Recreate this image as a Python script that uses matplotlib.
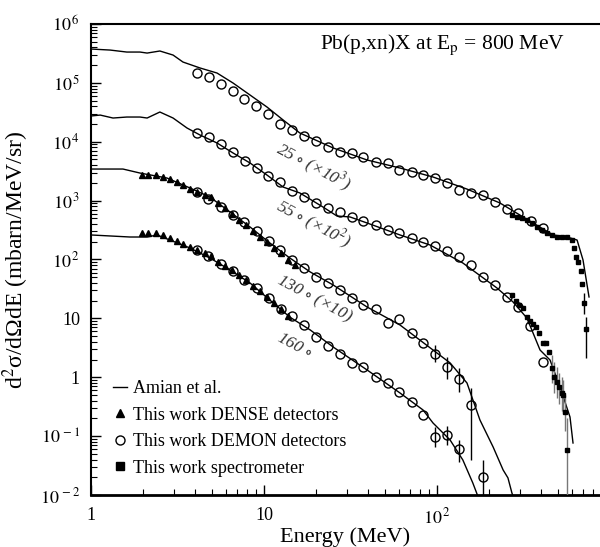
"""
Pb(p,xn)X double differential cross sections at Ep = 800 MeV
Amian et al. calculation vs. DENSE / DEMON / spectrometer data
"""

import matplotlib
matplotlib.use('Agg')
import matplotlib.pyplot as plt
from matplotlib.lines import Line2D
from matplotlib.ticker import LogLocator, NullFormatter

plt.rcParams.update({
    'font.family': 'serif',
    'font.serif': ['Liberation Serif', 'DejaVu Serif'],
    'mathtext.fontset': 'stix',
    'font.size': 13,
})

# ---- 25 deg (x10^3) ----
e_amian_25 = [1.00, 1.29, 1.61, 1.92, 2.11, 2.50, 2.98, 3.40, 4.27, 5.35, 6.62, 8.30, 10.4,
              12.9, 16.1, 25.1, 39.4, 61.1, 94.8, 149, 231, 359, 469, 564, 645, 698, 756]
y_amian_25 = [3.76e5, 3.61e5, 3.34e5, 3.34e5, 3.21e5, 3.48e5, 2.97e5, 2.26e5, 1.79e5, 1.47e5,
              9.95e4, 6.22e4, 3.89e4, 2.34e4, 1.41e4, 7.84e3, 4.90e3, 3.58e3, 2.52e3, 1.57e3,
              912, 417, 261, 241, 214, 98.1, 23.1]
e_demon_25 = [4.10, 4.81, 5.64, 6.62, 7.66, 8.99, 10.5, 12.4, 14.5, 17.0, 20.0, 23.4, 27.5, 32.3,
              37.3, 44.4, 52.1, 60.3, 71.7, 83.0, 97.3, 114, 134, 157, 185, 216, 254, 294, 349, 410]
y_demon_25 = [1.47e5, 1.26e5, 9.57e4, 7.28e4, 5.32e4, 4.05e4, 2.96e4, 2.00e4, 1.58e4, 1.25e4,
              1.03e4, 8.15e3, 6.70e3, 6.45e3, 5.51e3, 4.53e3, 4.36e3, 3.31e3, 3.06e3, 2.72e3,
              2.42e3, 1.99e3, 1.51e3, 1.35e3, 1.25e3, 948, 721, 617, 451, 343]
e_spec_25 = [271, 290, 310, 331, 354, 378, 405, 432, 462, 494, 528, 564, 603, 619, 636, 653,
             679, 689, 708, 727]
y_spec_25 = [571, 528, 508, 469, 417, 357, 317, 282, 261, 241, 241, 241, 214, 157, 110, 90.7,
             63.8, 38.4, 18.2, 6.60]
y_spec_25_lo = [571, 528, 508, 469, 417, 357, 317, 282, 261, 241, 241, 241, 214, 157, 110, 90.7,
                63.8, 38.4, 12.0, 2.12]
y_spec_25_hi = [571, 528, 508, 469, 417, 357, 317, 282, 261, 241, 241, 241, 214, 157, 110, 90.7,
                63.8, 38.4, 27.0, 10.5]

# ---- 55 deg (x10^2) ----
e_amian_55 = [1.00, 1.13, 1.34, 1.61, 1.92, 2.11, 2.50, 2.98, 3.59, 4.27, 5.35, 6.62, 8.30, 10.4,
              12.9, 16.1, 21.9, 26.4, 31.4, 39.4, 61.1, 91.2, 141, 222, 275, 331, 359, 394, 450,
              514, 587, 611]
y_amian_55 = [2.74e4, 2.84e4, 2.53e4, 2.63e4, 2.63e4, 2.53e4, 3.20e4, 2.53e4, 1.71e4, 1.30e4,
              9.53e3, 6.45e3, 4.36e3, 2.72e3, 1.70e3, 1.35e3, 780, 548, 528, 417, 261, 176, 87.2,
              32.8, 19.0, 10.1, 5.64, 2.90, 1.96, 0.682, 0.211, 0.0764]
e_demon_55 = [4.10, 4.81, 5.64, 6.62, 7.76, 9.12, 10.5, 12.4, 14.5, 17.0, 20.0, 23.4, 27.5, 32.3,
              37.3, 44.4, 52.1, 60.3, 71.7, 83.0, 97.3, 114, 134, 157, 185, 216, 254, 294, 345, 410]
y_demon_55 = [1.41e4, 1.21e4, 9.17e3, 6.70e3, 4.71e3, 3.58e3, 2.62e3, 2.07e3, 1.46e3, 1.15e3,
              912, 750, 641, 528, 451, 386, 317, 282, 232, 198, 169, 139, 110, 80.7, 50.5, 36.9,
              23.1, 15.6, 7.41, 1.82]
e_spec_55 = [271, 286, 298, 314, 331, 345, 359, 373, 389, 410, 427, 444, 462, 475, 494, 507, 528,
             535, 550, 564]
y_spec_55 = [25.0, 19.7, 16.9, 15.0, 10.5, 9.02, 8.02, 7.13, 5.64, 3.82, 3.82, 2.69, 1.44, 1.01,
             0.830, 0.682, 0.540, 0.499, 0.257, 0.0581]
y_spec_55_lo = [25.0, 19.7, 16.9, 15.0, 10.5, 9.02, 8.02, 7.13, 5.64, 3.82, 3.82, 2.69, 0.80,
                0.55, 0.45, 0.35, 0.27, 0.25, 0.12, 0.008]
y_spec_55_hi = [25.0, 19.7, 16.9, 15.0, 10.5, 9.02, 8.02, 7.13, 5.64, 3.82, 3.82, 2.69, 2.4,
                1.8, 1.5, 1.2, 1.0, 0.9, 0.50, 0.20]

# ---- 130 deg (x10) ----
e_amian_130 = [1.00, 1.53, 1.92, 2.75, 3.73, 4.87, 6.36, 8.30, 10.8, 14.1, 18.5, 25.1, 39.4, 61.1,
               94.8, 119, 149, 177, 211, 241, 257, 271, 285]
y_amian_130 = [3.44e3, 3.44e3, 2.94e3, 2.42e3, 1.64e3, 1.15e3, 641, 357, 191, 106, 61.4, 36.9,
               15.6, 7.71, 2.90, 1.75, 0.798, 0.188, 0.0653, 0.0266, 0.0195, 0.0108, 0.007]
e_dense_130 = [1.97, 2.13, 2.38, 2.61, 2.86, 3.14, 3.40, 3.73, 4.10, 4.56, 4.94, 5.42, 5.95, 6.53,
               7.17, 7.87, 8.64, 9.48, 10.4, 11.4, 12.5, 13.8, 15.1]
y_dense_130 = [2.72e3, 2.72e3, 2.72e3, 2.52e3, 2.33e3, 2.07e3, 1.84e3, 1.57e3, 1.40e3, 1.25e3,
               1.15e3, 912, 750, 593, 469, 386, 305, 241, 198, 157, 129, 98.1, 80.7]
e_demon_130 = [4.10, 4.75, 5.64, 6.62, 7.66, 9.12, 10.7, 12.4, 14.5, 17.0, 20.0, 23.4, 27.5, 32.3,
               37.3, 44.4, 52.1, 60.3, 71.7, 83.0, 97.3, 114, 134, 157]
y_demon_130 = [1.40e3, 1.07e3, 780, 571, 434, 305, 206, 145, 98.1, 71.8, 50.5, 39.9, 30.4, 22.2,
               16.9, 14.4, 8.34, 9.75, 5.64, 3.82, 2.48, 1.49, 0.933, 0.338]
y_demon_130_lo = [1.40e3, 1.07e3, 780, 571, 434, 305, 206, 145, 98.1, 71.8, 50.5, 39.9, 30.4,
                  22.2, 16.9, 14.4, 8.34, 9.75, 5.64, 3.82, 1.8, 0.95, 0.561, 0.0393]
y_demon_130_hi = [1.40e3, 1.07e3, 780, 571, 434, 305, 206, 145, 98.1, 71.8, 50.5, 39.9, 30.4,
                  22.2, 16.9, 14.4, 8.34, 9.75, 5.64, 3.82, 3.5, 2.2, 1.44, 0.656]

# ---- 160 deg ----
e_amian_160 = [1.00, 1.68, 2.11, 2.41, 2.86, 3.73, 4.87, 6.36, 8.30, 10.8, 14.1, 18.5, 25.1, 39.4,
               61.1, 83.0, 94.8, 119, 141, 161, 173, 180]
y_amian_160 = [261, 241, 241, 261, 214, 157, 106, 66.4, 39.9, 20.5, 10.5, 6.35, 3.26, 1.33,
               0.540, 0.278, 0.167, 0.0859, 0.0393, 0.0160, 0.0092, 0.006]
e_dense_160 = [1.97, 2.13, 2.38, 2.61, 2.86, 3.14, 3.40, 3.73, 4.10, 4.56, 4.94, 5.42, 5.95, 6.53,
               7.17, 7.87, 8.64, 9.48, 10.4, 11.4, 12.5, 13.8]
y_dense_160 = [282, 282, 282, 261, 232, 206, 183, 163, 145, 129, 115, 90.7, 77.6, 66.4, 54.6,
               44.9, 35.5, 29.2, 23.1, 18.2, 14.4, 11.0]
e_demon_160 = [4.10, 4.75, 5.64, 6.62, 7.66, 9.12, 10.7, 12.5, 14.5, 17.0, 20.0, 23.4, 27.5, 32.3,
               37.3, 44.4, 52.1, 60.3, 71.7, 83.0, 97.3, 114, 134, 185]
y_demon_160 = [145, 115, 83.9, 63.8, 44.9, 32.8, 22.2, 14.4, 11.0, 7.7, 4.83, 3.39, 2.48, 1.75,
               1.49, 1.01, 0.798, 0.561, 0.380, 0.229, 0.0966, 0.104, 0.0604, 0.0202]
y_demon_160_lo = [145, 115, 83.9, 63.8, 44.9, 32.8, 22.2, 14.4, 11.0, 7.7, 4.83, 3.39, 2.48,
                  1.75, 1.49, 1.01, 0.798, 0.561, 0.380, 0.229, 0.0653, 0.07, 0.0363, 0.005]
y_demon_160_hi = [145, 115, 83.9, 63.8, 44.9, 32.8, 22.2, 14.4, 11.0, 7.7, 4.83, 3.39, 2.48,
                  1.75, 1.49, 1.01, 0.798, 0.561, 0.380, 0.229, 0.143, 0.15, 0.0859, 0.0393]

angle_labels = [r'25$\,\circ\,$(×10$^{3}$)', r'55$\,\circ\,$(×10$^{2}$)',
                r'130$\,\circ\,$(×10)', r'160$\,\circ$']
label_e = [12.0, 12.0, 12.0, 12.0]
label_y = [7.8e3, 840, 46, 4.8]

ytick_vals = [1e-2, 1e-1, 1, 10, 1e2, 1e3, 1e4, 1e5, 1e6]
ytick_labels = [r'$10^{\,-2}$', r'$10^{\,-1}$', '1', '10', r'$10^{\,2}$', r'$10^{\,3}$',
                r'$10^{\,4}$', r'$10^{\,5}$', r'$10^{\,6}$']
xtick_vals = [1, 10, 100]
xtick_labels = ['1', '10', r'$10^{\,2}$']

fig = plt.figure(figsize=(6.0, 5.47), dpi=100)
ax = fig.add_axes([0.1517, 0.0951, 0.8483, 0.861])
ax.set_xscale('log')
ax.set_yscale('log')
ax.set_xlim(1, 875)
ax.set_ylim(1e-2, 1e6)

line_kw = dict(color='black', lw=1.0, zorder=2)
circ_kw = dict(fmt='o', ms=6.5, mfc='none', mec='black', mew=1.0, ecolor='black',
               elinewidth=1.0, capsize=0, zorder=3)
tri_kw = dict(ls='none', marker='^', ms=4.5, color='black', zorder=4)
sq_kw = dict(fmt='s', ms=3.5, color='black', ecolor='black', elinewidth=1.0, capsize=0, zorder=4)

# Amian et al. calculations
ax.plot(e_amian_25, y_amian_25, **line_kw)
ax.plot(e_amian_55, y_amian_55, **line_kw)
ax.plot(e_amian_130, y_amian_130, **line_kw)
ax.plot(e_amian_160, y_amian_160, **line_kw)

# DENSE detectors
ax.plot(e_dense_130, y_dense_130, **tri_kw)
ax.plot(e_dense_160, y_dense_160, **tri_kw)


def asym(y, lo, hi):
    return [[v - l for v, l in zip(y, lo)], [h - v for v, h in zip(y, hi)]]


# DEMON detectors
ax.errorbar(e_demon_25, y_demon_25, **circ_kw)
ax.errorbar(e_demon_55, y_demon_55, **circ_kw)
ax.errorbar(e_demon_130, y_demon_130, yerr=asym(y_demon_130, y_demon_130_lo, y_demon_130_hi),
            **circ_kw)
ax.errorbar(e_demon_160, y_demon_160, yerr=asym(y_demon_160, y_demon_160_lo, y_demon_160_hi),
            **circ_kw)

# spectrometer
ax.errorbar(e_spec_25, y_spec_25, yerr=asym(y_spec_25, y_spec_25_lo, y_spec_25_hi), **sq_kw)
sq55 = dict(sq_kw)
sq55['ecolor'] = '#777777'
ax.errorbar(e_spec_55, y_spec_55, yerr=asym(y_spec_55, y_spec_55_lo, y_spec_55_hi), **sq55)

# angle labels
for lab, ex, yy in zip(angle_labels, label_e, label_y):
    ax.text(ex, yy, lab, rotation=-28, rotation_mode='anchor', ha='left', va='center',
            style='italic', fontsize=12.5, color='#333333')

ax.text(0.931, 0.955, r'Pb(p,xn)X at E$_{\mathrm{p}}$ = 800 MeV', transform=ax.transAxes,
        ha='right', va='center', fontsize=15.5)

handles = [
    Line2D([], [], color='black', lw=1.0),
    Line2D([], [], ls='none', marker='^', ms=6, color='black'),
    Line2D([], [], ls='none', marker='o', ms=6.5, mfc='none', mec='black'),
    Line2D([], [], ls='none', marker='s', ms=5.5, color='black'),
]
labels = ['Amian et al.', 'This work DENSE detectors', 'This work DEMON detectors',
          'This work spectrometer']
ax.legend(handles, labels, loc='upper left', bbox_to_anchor=(0.043, 0.244), frameon=False,
          handlelength=0.8, handletextpad=0.3, labelspacing=0.53, borderaxespad=0,
          borderpad=0, fontsize=13)

# axes styling
ax.set_yticks(ytick_vals)
ax.set_yticklabels(ytick_labels)
ax.set_xticks(xtick_vals)
ax.set_xticklabels(xtick_labels)
ax.yaxis.set_minor_locator(LogLocator(base=10, subs=range(2, 10), numticks=20))
ax.xaxis.set_minor_locator(LogLocator(base=10, subs=range(2, 10), numticks=20))
ax.yaxis.set_minor_formatter(NullFormatter())
ax.xaxis.set_minor_formatter(NullFormatter())
ax.tick_params(which='major', direction='in', length=7, width=1.0, labelsize=13,
               top=False, right=False)
ax.tick_params(which='minor', direction='in', length=4, width=0.8, top=False, right=False)
ax.tick_params(axis='y', pad=8)
ax.tick_params(axis='x', pad=9)
ax.spines['right'].set_visible(False)
ax.spines['left'].set_linewidth(1.5)
ax.spines['bottom'].set_linewidth(2.0)
ax.spines['top'].set_linewidth(1.5)

ax.set_xlabel('Energy (MeV)', fontsize=16, labelpad=0)
ax.set_ylabel(r'd$^{2}$σ/dΩdE (mbarn/MeV/sr)', fontsize=17, labelpad=6)

fig.savefig('out.png', dpi=100)
plt.close(fig)
